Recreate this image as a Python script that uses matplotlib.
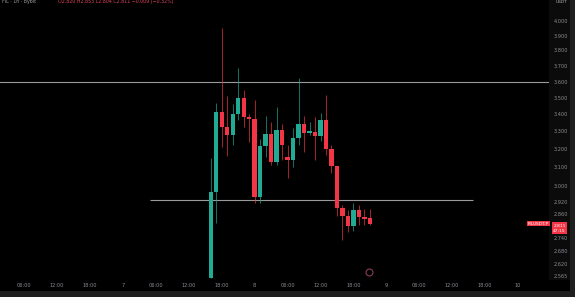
#!/usr/bin/env python3
import matplotlib
matplotlib.use("Agg")
import matplotlib.pyplot as plt
from matplotlib.patches import Rectangle
from matplotlib.ticker import NullLocator, NullFormatter

# hours counted from day "7" 00:00, 1h candles
hours = [16, 17, 18, 19, 20, 21, 22, 23, 24, 25, 26, 27, 28, 29, 30,
         31, 32, 33, 34, 35, 36, 37, 38, 39, 40, 41, 42, 43, 44, 45]
opens = [2.556, 2.970, 3.414, 3.326, 3.280, 3.402, 3.498, 3.384, 3.372, 2.944,
         3.217, 3.285, 3.129, 3.308, 3.156, 3.140, 3.262, 3.343, 3.291, 3.297,
         3.274, 3.366, 3.201, 3.107, 2.888, 2.848, 2.799, 2.878, 2.843, 2.838]
highs = [3.151, 3.468, 3.952, 3.510, 3.461, 3.686, 3.547, 3.400, 3.486, 3.257,
         3.390, 3.355, 3.443, 3.343, 3.223, 3.320, 3.622, 3.390, 3.355, 3.384,
         3.408, 3.516, 3.223, 3.107, 2.903, 2.878, 2.913, 2.903, 2.883, 2.883]
lows = [2.556, 2.813, 3.212, 3.162, 3.223, 3.366, 3.326, 3.240, 2.913, 2.913,
        3.156, 3.113, 3.113, 3.140, 3.043, 3.102, 3.223, 3.184, 3.280, 3.140,
        3.245, 3.167, 3.069, 2.848, 2.731, 2.770, 2.774, 2.804, 2.804, 2.804]
closes = [2.970, 3.414, 3.326, 3.280, 3.402, 3.498, 3.384, 3.372, 2.944, 3.217,
          3.285, 3.129, 3.308, 3.223, 3.140, 3.262, 3.343, 3.291, 3.302, 3.274,
          3.366, 3.201, 3.107, 2.888, 2.848, 2.799, 2.878, 2.843, 2.833, 2.811]

price_ticks = [4.0, 3.9, 3.8, 3.7, 3.6, 3.5, 3.4, 3.3, 3.2, 3.1, 3.0,
               2.92, 2.86, 2.74, 2.68, 2.62, 2.565]
time_ticks = [-18, -12, -6, 0, 6, 12, 18, 24, 30, 36, 42, 48, 54, 60, 66, 72]
time_labels = ["06:00", "12:00", "18:00", "7", "06:00", "12:00", "18:00", "8",
               "06:00", "12:00", "18:00", "9", "06:00", "12:00", "18:00", "10"]

resistance = 3.6
support = 2.928
support_span = (4.9, 63.8)
last_price = 2.811

GREEN = "#22ab94"
RED = "#f23645"
TXT = "#8a8d96"

W, H = 575, 297


def draw_candles(ax):
    for t, o, h, l, c in zip(hours, opens, highs, lows, closes):
        col = GREEN if c >= o else RED
        ax.vlines(t, l, h, color=col, linewidth=0.55, alpha=0.85, zorder=2)
        lo, hi = min(o, c), max(o, c)
        if hi / lo < 1.002:
            hi = lo * 1.002
        ax.add_patch(Rectangle((t - 0.4, lo), 0.8, hi - lo, facecolor=col,
                               edgecolor="none", zorder=3))


def main():
    fig = plt.figure(figsize=(W / 100, H / 100), dpi=100)
    fig.patch.set_facecolor("#000000")

    # price-scale panel, right border, bottom strip
    fig.add_artist(Rectangle((549 / W, 17 / H), 21 / W, 1 - 17 / H,
                             transform=fig.transFigure, facecolor="#0b0b0b",
                             edgecolor="none", zorder=0))
    fig.add_artist(Rectangle((570 / W, 0), 5 / W, 1, transform=fig.transFigure,
                             facecolor="#1f1f1f", edgecolor="none", zorder=0))
    fig.add_artist(Rectangle((0, 0), 1, 6 / H, transform=fig.transFigure,
                             facecolor="#1f1f1f", edgecolor="none", zorder=0))

    ax = fig.add_axes([0, 17 / H, 549 / W, 280 / H])
    ax.set_facecolor("#000000")
    for s in ax.spines.values():
        s.set_visible(False)

    ax.set_yscale("log")
    ax.set_ylim(2.548, 4.149)
    ax.set_xlim(-22.42, 77.65)

    ax.axhline(resistance, color="#9a9a9a", linewidth=0.8, zorder=1)
    ax.hlines(support, *support_span, color="#9a9a9a", linewidth=0.8, zorder=1)

    draw_candles(ax)

    ax.yaxis.tick_right()
    ax.set_yticks(price_ticks)
    ax.set_yticklabels([f"{v:.3f}" for v in price_ticks])
    ax.yaxis.set_minor_locator(NullLocator())
    ax.yaxis.set_minor_formatter(NullFormatter())
    ax.tick_params(axis="y", length=0, pad=3.5, labelsize=3.6, labelcolor=TXT)

    ax.set_xticks(time_ticks)
    ax.set_xticklabels(time_labels)
    ax.tick_params(axis="x", length=0, pad=2.5, labelsize=3.6, labelcolor=TXT)

    # last price labels
    ax.text(1.0, last_price, "FILUSDT.P", transform=ax.get_yaxis_transform(),
            ha="right", va="center", fontsize=3.2, color="white",
            bbox=dict(boxstyle="square,pad=0.2", facecolor=RED, edgecolor="none"),
            zorder=5, clip_on=False)
    ax.text(1.0 + 10.5 / 549, last_price, f"{last_price:.3f}\n47:15",
            transform=ax.get_yaxis_transform(), ha="center", va="top",
            fontsize=3.2, color="white", linespacing=1.4,
            bbox=dict(boxstyle="square,pad=0.3", facecolor=RED, edgecolor="none"),
            zorder=5, clip_on=False)

    # header text
    fig.text(2 / W, 1 - 2 / H, "FIL · 1h · Bybit", fontsize=3.4, color="#a0a0a0",
             va="center", ha="left")
    fig.text(58 / W, 1 - 2 / H, "O2.820 H2.853 L2.804 C2.811 −0.009 (−0.32%)",
             fontsize=3.4, color="#e0455e", va="center", ha="left")
    fig.text(561 / W, 1 - 2 / H, "USDT", fontsize=3.2, color="#b0b0b0",
             va="center", ha="center")

    # logo mark
    ax.plot([0.673], [0.03], transform=ax.transAxes, marker="o", markersize=5,
            markerfacecolor="none", markeredgecolor="#8a3a5e", markeredgewidth=0.8)

    fig.savefig("out.png", dpi=100, facecolor=fig.get_facecolor())
    plt.close(fig)


if __name__ == "__main__":
    main()
